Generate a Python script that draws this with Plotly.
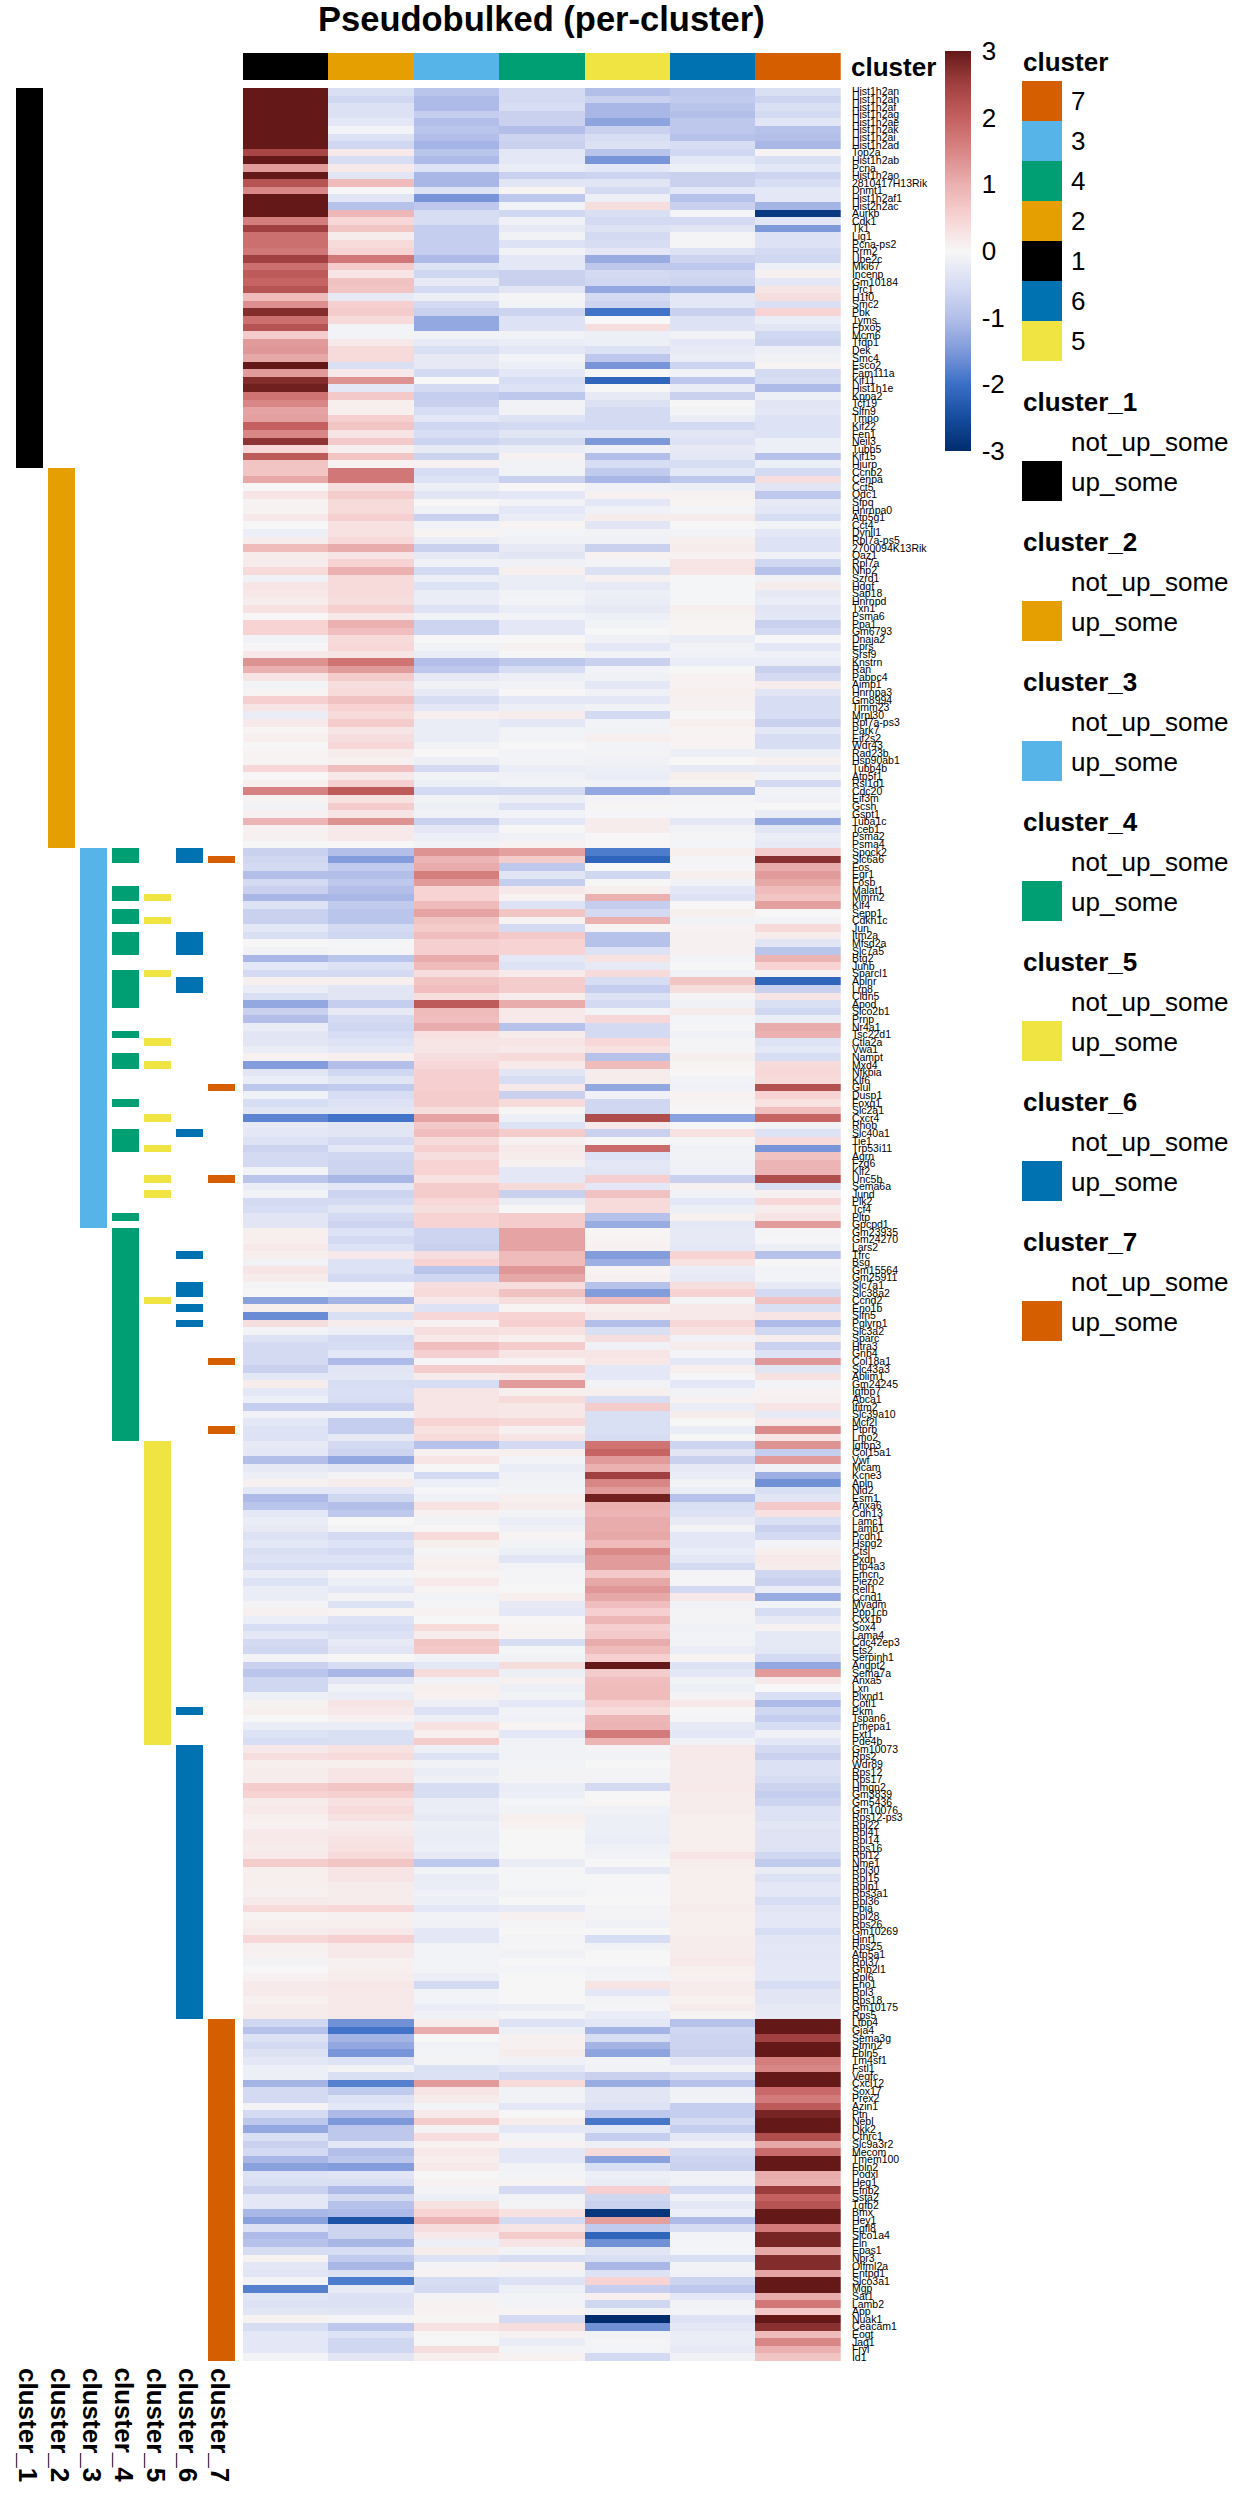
import plotly.graph_objects as go

W, H = 1248, 2496
clusters = ["1", "2", "3", "4", "5", "6", "7"]
cluster_colors = ["#000000", "#E69F00", "#56B4E9", "#009E73", "#F0E442", "#0072B2", "#D55E00"]
legend_order = ["7", "3", "4", "2", "1", "6", "5"]
colorbar_ticks = [-3, -2, -1, 0, 1, 2, 3]

genes_1 = ["Hist1h2an","Hist1h2ah","Hist1h2af","Hist1h2ag","Hist1h2ae","Hist1h2ak","Hist1h2ai","Hist1h2ad","Top2a","Hist1h2ab","Pcna","Hist1h2ao","2810417H13Rik","Dnmt1","Hist1h2af1","Hist2h2ac","Aurkb","Cdk1","Tk1","Lig1","Pcna-ps2","Rrm2","Ube2c","Mki67","Incenp","Gm10184","Prc1","H1f0","Smc2","Pbk","Tyms","Fbxo5","Mcm6","Tfdp1","Dek","Smc4","Esco2","Fam111a","Kif11","Hist1h1e","Kpna2","Tcf19","Slfn9","Tmpo","Kif22","Fen1","Neil3","Tubb5","Kif15","Hjurp"]
z_1 = [
[3,-.45,-.9,-.55,-1.0,-.85,-.45],[3,-.6,-1.05,-.55,-.7,-.8,-.65],[3,-.42,-1.05,-.5,-1.1,-.9,-.45],[3,-.42,-.75,-.7,-1.1,-1.0,-.55],[3,-.3,-1.0,-.7,-1.35,-.85,-.35],
[3,-.08,-.9,-1.0,-.7,-.85,-.95],[3,-.4,-1.0,-.65,-.5,-.95,-1.0],[3,-.6,-1.15,-.7,-.42,-.5,-1.1],[2.4,.2,-.9,-.3,-.9,-.6,.05],[3,-.5,-1.05,-.3,-1.55,-.3,-.45],
[1.25,.2,-.4,-.2,-.3,-.15,-.3],[3,-.35,-1.1,-.7,-.65,-.7,-.65],[2.2,.85,-1.1,-.35,-.35,-.7,-.5],[1.5,.02,-.4,.06,-.55,-.3,-.3],[3,-.35,-1.55,-.85,-.15,-.95,-.3],
[3,-.95,-.85,-.1,.35,-.7,-1.15],[3,.9,-.5,-.6,-.45,-.05,-2.8],[1.6,.45,-.5,-.12,-.55,-.55,-.35],[2.5,.7,-.75,-.25,-.4,-.35,-1.5],[1.8,.15,-.75,-.1,-.55,-.05,-.4],
[1.8,.4,-.75,-.4,-.5,-.05,-.4],[1.7,.5,-.75,-.1,-.3,-.4,-.55],[2.5,1.7,-1.05,-.3,-1.25,-.65,-.6],[1.8,.6,-.4,-.3,-.85,-.85,-.15],[2.1,.25,-.6,-.7,-.55,-.6,.1],
[1.95,.75,-.25,-.7,-.6,-.65,-.3],[2.2,.7,-.55,-.35,-1.3,-1.15,.25],[.85,-.25,-.15,-.05,-.55,-.3,.35],[1.4,.55,-.55,-.08,-.65,-.3,-.45],[2.75,.6,-.7,-.65,-1.95,-.7,.5],
[1.8,.4,-1.3,-.4,0,-.4,-.2],[2.2,-.08,-1.3,-.4,.35,-.4,-.35],[.6,-.08,-.1,-.1,-.15,-.1,-.6],[1.25,.2,-.25,-.2,-.15,-.3,-.65],[1.3,.4,-.45,-.3,-.42,-.25,-.15],
[1.1,.4,-.25,-.08,-.85,-.2,-.1],[3,-.45,-.25,-.15,-1.55,-.65,.05],[1.25,.2,-.55,-.3,-.02,-.1,-.55],[2.75,1.35,0,-.5,-2.15,-.85,-.5],[2.9,-.3,-.55,-.4,.02,-.2,-1.05],
[1.75,.65,-.75,-.85,-.25,-.7,-.15],[1.5,.12,-.7,-.1,-.42,-.02,-.35],[1.15,.12,-.5,-.1,-.55,-.08,-.3],[1.2,.55,-.3,-.4,-.55,-.2,-.4],[2.0,.7,-.6,-.55,-.55,-.55,-.4],
[1.5,.25,-.5,-.35,-.35,-.35,-.4],[2.65,.65,-.65,-.55,-1.5,-.4,-.15],[.45,.12,-.25,-.2,-.12,-.25,-.15],[2.1,.7,-.65,.1,-1.0,-.3,-.95],[.7,.08,.08,-.1,-.5,-.5,-.15],
]

genes_2 = ["Ccnb2","Cenpa","Cct5","Odc1","Sfpq","Hnrnpa0","Atp5g1","Cct4","Dynll1","Rpl7a-ps5","2700094K13Rik","Oaz1","Rpl7a","Nhp2","Szrd1","Hdgf","Sap18","Hnrnpd","Txn1","Psma6","Ppa1","Gm6793","Dnaja2","Eprs","Srsf9","Knstrn","Ran","Pabpc4","Aimp1","Hnrnpa3","Gm8994","Timm23","Mrpl30","Rpl7a-ps3","Park7","Eif2s2","Wdr43","Rad23b","Hsp90ab1","Tubb4b","Atp5f1","Rsl1d1","Cdc20","Eif3m","Gcsh","Gspt1","Tuba1c","Tceb1","Psma2","Psma4"]
z_2 = [
[.7,1.7,-.5,-.1,-.8,-.3,-.55],[1.1,1.7,-.4,-.7,-1.1,-.85,.35],[.02,.35,-.15,.03,-.12,-.15,-.35],[.25,.6,-.35,-.3,.1,.1,-.85],[.07,.4,.03,-.1,-.3,.05,-.25],
[.07,.4,-.12,-.3,-.12,-.08,-.3],[.2,.55,-.7,-.2,.15,.15,-.5],[.02,.3,-.1,.05,-.35,.02,-.08],[-.15,.3,.05,-.08,-.1,-.08,-.3],[.15,.42,-.2,-.12,-.12,.12,-.4],
[.85,1.05,-.7,-.25,-.7,.15,-.4],[.15,.25,-.25,-.35,.08,.08,-.12],[.15,.5,-.12,-.12,-.08,.25,-.6],[.4,1.0,-.55,.12,-.42,.25,-.95],[-.12,.4,-.15,-.2,.1,-.04,-.1],
[.25,.4,-.4,-.2,-.25,-.04,.15],[.22,.4,-.2,-.1,-.15,-.04,-.25],[.15,.35,-.2,-.08,-.2,-.04,-.2],[.3,.55,-.4,-.2,-.25,.12,-.35],[.03,.2,-.1,-.08,-.15,.07,-.3],
[.5,1.0,-.65,-.3,-.08,.05,-.7],[.5,.8,-.65,-.3,.02,.05,-.55],[-.1,.4,.02,-.02,-.12,-.2,.02],[.03,.45,-.1,.1,-.3,-.1,-.3],[.2,.25,-.2,.02,-.1,-.12,-.12],
[1.35,1.75,-1.0,-.85,-.7,-.2,-.2],[1.0,1.25,-.85,-.5,-.08,-.02,-.7],[.25,.6,-.25,-.15,-.12,.08,-.55],[-.08,.35,-.12,-.1,-.3,.08,.15],[.05,.4,-.25,.03,-.12,.12,-.35],
[.55,.75,-.5,-.3,-.3,.1,-.5],[.25,.5,-.3,-.15,-.1,.1,-.5],[-.2,.4,.12,.15,-.55,.02,-.5],[.2,.6,-.2,-.3,-.08,.12,-.7],[.05,.25,-.2,-.1,-.1,.06,-.3],
[.12,.35,-.2,-.08,.12,.08,-.5],[.02,.45,-.1,.01,-.08,.05,-.5],[.05,.15,.03,-.08,-.07,-.15,-.15],[.05,.1,-.15,-.08,-.12,.01,.1],[.45,.8,-.55,-.2,-.15,-.25,-.25],
[.03,.2,-.1,-.12,-.2,.12,-.1],[.12,.55,-.15,-.1,-.1,.05,-.55],[1.55,2.1,-.55,-.55,-1.3,-1.1,-.1],[.05,.3,-.1,-.15,-.05,-.05,-.12],[-.1,.6,-.15,-.4,.04,-.03,.02],
[.1,.25,-.12,-.08,-.03,-.03,-.2],[.95,1.35,-.7,-.3,.15,-.3,-1.3],[.1,.2,-.3,.02,.15,-.1,-.35],[.1,.2,-.15,-.12,.03,-.05,-.2],[.02,.03,-.1,.08,.03,-.06,-.25],
]

genes_3 = ["Spock2","Slc6a6","Fos","Egr1","Fosb","Malat1","Mmrn2","Klf4","Sepp1","Cdkn1c","Jun","Itm2a","Mfsd2a","Slc7a5","Btg2","Junb","Sparcl1","Aplnr","Lrp8","Cldn5","Apod","Slco2b1","Prnp","Nr4a1","Tsc22d1","Ctla2a","Vwa1","Nampt","Mxd4","Nfkbia","Klf6","Glul","Dusp1","Foxq1","Slc2a1","Cxcr4","Rhob","Slc40a1","Tie1","Trp53i11","Agrn","Fzd6","Klf2","Unc5b","Sema6a","Jund","Plk2","Tcf4","Pltp","Gpcpd1"]
z_3 = [
[-.7,-1,1.35,1.2,-1.85,.12,.6],[-.6,-1.45,.95,.6,-2.15,-.05,2.7],[-.55,-.8,1.05,-.85,0,-.03,1.05],[-1.0,-1.0,1.6,-.35,-.6,.12,1.25],[-.55,-.85,1.25,-.75,-.02,-.1,1.1],
[-.7,-1,.5,.2,.12,-.3,.85],[-1.1,-1.1,.5,.08,1.0,-.4,.7],[-.4,-.8,.85,-.4,-.75,.03,1.2],[-.7,-.9,1.15,.7,-.55,.12,.02],[-.7,-.9,.7,.05,1.0,-.1,-.08],
[-.3,-.55,.6,-.55,.05,.08,.4],[-.45,-.6,.8,.65,-.95,.1,.15],[.01,-.04,.55,.5,-.95,.1,-.35],[-.1,-.05,.55,.5,-.4,.1,-.9],[-1.1,-.9,1.05,-.3,.3,-.08,.95],
[-.3,-.4,.85,-.4,-.25,-.02,.5],[-.55,-.55,.35,.18,.4,-.12,.05],[.12,.12,.7,.6,-.5,.7,-2.15],[-.2,-.35,.8,.6,-.75,.35,-.7],[-.45,-.35,.35,.15,-.4,-.05,.25],
[-1.3,-.75,2.1,1.05,-.55,-.12,-.45],[-.7,-.25,.85,.2,-.08,.15,-.6],[-1.0,-.55,.8,.2,.45,-.08,-.2],[-.22,-.6,1.05,-.95,-.55,-.03,1.05],[-.35,-.5,.3,.15,-.55,-.12,1.0],
[-.35,-.4,.25,.25,.45,-.05,-.4],[-.2,-.3,.25,.2,.3,-.05,-.3],[.08,.12,.35,.4,-.95,.12,-.5],[-1.45,-1,.45,.2,.85,.05,.4],[-.35,-.6,.55,-.35,.15,.03,.45],
[-.2,-.35,.55,-.5,.15,-.1,.4],[-.85,-.8,.55,.2,-1.3,-.12,2.25],[-.12,-.5,.6,-.7,-.12,.08,.5],[-.5,-.4,.6,.4,-.6,.05,.3],[-.35,-.35,.35,.04,-.6,.03,.8],
[-1.75,-1.95,1.15,-.15,2.3,-1.4,1.95],[-.25,-.35,.65,-.4,.2,-.03,-.1],[-.3,-.35,.8,.6,-.7,.3,-.4],[-.4,-.55,.4,.1,.02,-.05,.4],[-.65,-.3,.55,.2,1.85,-.12,-1.55],
[-.55,-.6,.35,.15,-.4,-.1,.75],[-.55,-.65,.5,.1,-.3,-.12,.95],[-.08,-.65,.5,-.3,-.35,-.12,.95],[-.9,-1.1,.3,-.3,.55,-.7,2.3],[-.2,-.3,.6,.4,-.3,.1,-.45],
[-.1,-.65,.6,-.7,.75,-.1,.1],[-.55,-.55,.45,-.2,.4,-.3,.45],[-.5,-.35,.35,-.02,.4,-.15,.15],[-.35,-.55,.5,.6,-.95,.1,.25],[-.35,-.65,.5,.6,-1.25,-.3,1.25],
]

genes_4 = ["Gm23935","Gm24270","Lars2","Tfrc","Bsg","Gm15564","Gm25911","Slc7a1","Slc38a2","Ccnd2","Eno1b","Slfn5","Pglyrp1","Slc3a2","Sparc","Htra3","Gnb4","Col18a1","Slc43a3","Ablim1","Gm24245","Igfbp7","Abca1","Ifitm2","Slc39a10","Mcf2l","Ptprb","Lmo2"]
z_4 = [
[.12,-.4,-.65,1.15,.04,-.25,-.05],[.12,-.55,-.65,1.15,.05,-.25,-.03],[.2,-.4,-.7,1.15,.1,-.3,-.15],[.12,.2,.35,.85,-1.45,.5,-.95],[-.1,-.4,.5,.85,-1.2,.3,-.02],
[.25,-.4,-.9,1.3,.06,-.2,-.08],[.15,-.55,-.6,1.1,.1,-.25,-.08],[-.05,-.03,.35,.35,-.95,.35,-.25],[.02,-.1,.4,.75,-1.45,.5,-.55],[-1.4,-1.15,.2,.35,.8,-.05,.75],
[.12,.15,-.4,.05,.12,.2,-.45],[-1.65,-.45,.45,.5,.2,.2,.25],[.35,.15,.08,.55,-1.0,.45,-1.05],[-.08,-.15,.35,.3,-.45,.3,-.6],[-.4,-.55,.2,.12,.35,-.12,.15],
[-.55,-.5,.8,.6,-.12,.15,-.7],[-.55,-.3,.55,.25,.25,-.05,-.4],[-.55,-1.05,-.05,.08,.22,-.3,1.3],[-.7,-.35,.6,.6,-.3,.12,-.35],[-.3,-.3,.15,.22,-.3,-.03,.3],
[.15,-.5,-.5,1.25,-.1,-.3,-.08],[-.3,-.45,.25,.12,.12,-.1,.08],[-.15,-.5,.25,.4,-.5,.1,.1],[-.75,-.75,.25,.22,.6,-.2,.25],[-.12,-.1,.25,.22,-.45,.15,-.25],
[-.3,-.75,.5,.45,-.45,-.02,.2],[-.4,-.75,.3,.1,-.45,-.2,1.45],[-.4,-.25,.4,.25,-.5,-.02,.25],
]

genes_5 = ["Igfbp3","Col15a1","Vwf","Mcam","Kcne3","Apln","Nid2","Esm1","Anxa6","Cdh13","Lamc1","Lamb1","Pcdh1","Hspg2","Ctsl","Pxdn","Ptp4a3","Emcn","Piezo2","Rell1","Ccnd1","Myadm","Ppp1cb","Cxx1b","Sox4","Lama4","Cdc42ep3","Ets2","Serpinh1","Angpt2","Sema7a","Anxa5","Lxn","Plxnd1","Cotl1","Pkm","Tspan6","Pmepa1","Ext1","Pde4b"]
z_5 = [
[-.25,-.55,-.95,-.55,1.75,-.65,1.35],[-.3,-.65,.1,.12,1.95,-.35,-.75],[-1.0,-1.3,.25,-.08,1.25,-.7,1.25],[-.25,-.35,.02,-.2,1.0,-.25,-.12],[-.15,-.07,-.55,-.12,2.5,-.2,-1.2],
[.1,.15,-.15,-.1,1.5,-.08,-1.6],[-.3,-.3,-.03,-.08,1.25,-.2,-.45],[-1.05,-.6,-.12,.12,2.9,-.95,-.35],[-.9,-1.0,.3,.15,1.0,-.45,.65],[-.3,-.85,.1,-.08,.95,-.4,.3],
[-.2,.01,-.1,-.2,1.05,-.25,-.45],[-.25,-.07,.03,-.12,1.05,-.07,-.7],[-.4,-.55,.4,.05,1.1,-.3,-.55],[-.3,-.4,.12,-.08,.85,-.3,-.08],[-.45,-.55,-.05,-.15,1.45,-.2,.12],
[-.4,-.4,.1,-.35,1.25,-.3,.2],[-.5,-.5,.12,-.08,1.25,-.55,.15],[-.2,-.05,.05,-.05,.65,-.05,-.6],[-.4,-.15,.2,-.03,1.1,-.05,-.7],[-.2,-.3,.06,.02,1.3,-.55,-.2],
[-.2,-.07,-.1,.12,1.1,.2,-1.25],[-.07,-.4,-.05,-.25,.8,-.12,-.08],[.1,.05,.08,-.3,.55,-.07,-.5],[-.18,-.4,.02,.03,.9,-.07,-.25],[-.5,-.5,.4,.05,.55,-.12,.08],
[-.3,-.4,.15,.05,.65,-.08,-.28],[-.55,-.25,.7,-.5,1.05,-.1,-.28],[-.6,-.35,.65,-.04,.85,-.2,-.3],[-.07,.01,-.1,-.1,.55,.05,-.55],[-.7,-.5,-.3,.38,3,-.4,-1.3],
[-.9,-1.1,.4,-.15,.6,-.3,1.25],[-.6,-.35,-.1,.1,.8,-.1,.2],[-.6,-.1,.12,-.15,.85,-.15,0],[-.15,-.2,.1,-.1,.85,-.07,-.45],[.07,.25,-.15,-.3,.55,.2,-1.05],
[.12,.2,-.4,-.1,.4,.02,-.6],[.02,.1,-.15,-.12,.9,-.05,-.75],[-.2,-.2,.3,.05,.95,-.25,-.5],[-.4,-.45,.12,-.3,1.65,-.3,-.12],[-.5,-.45,.6,-.1,.95,-.1,-.3],
]

genes_6 = ["Gm10073","Rps2","Wdr89","Rps12","Rps17","Hmgn2","Gm3839","Gm5436","Gm10076","Rps12-ps3","Rpl22","Rpl41","Rpl14","Rps16","Rpl12","Nme1","Rpl30","Rpl15","Rplp1","Rps3a1","Rpl36","Ppia","Rpl28","Rps26","Gm10269","Hint1","Rps25","Atp5a1","Rpl37","Gnb2l1","Rpl6","Eno1","Rpl3","Rps18","Gm10175","Rps5"]
z_6 = [
[.2,.3,-.15,-.1,-.07,.2,-.55],[.35,.4,-.4,-.1,-.1,.2,-.7],[.12,.12,-.1,-.08,.01,.18,-.42],[.15,.25,-.2,-.07,-.07,.18,-.42],[.15,.25,-.12,-.07,-.07,.18,-.5],
[.6,.7,-.5,-.2,-.55,.2,-.65],[.5,.55,-.5,-.15,.01,.15,-.75],[.15,.3,-.2,-.06,.04,.15,-.65],[.2,.4,-.2,-.1,-.12,.15,-.4],[.12,.3,-.25,.12,-.15,.12,-.42],
[.08,.15,-.15,.08,-.15,.12,-.32],[.2,.2,-.2,.02,-.15,.12,-.38],[.2,.28,-.2,.02,-.2,.12,-.38],[.15,.3,-.15,.01,-.12,.12,-.38],[.2,.4,-.25,.01,-.1,.25,-.6],
[.6,.7,-.85,-.2,.01,.15,-.8],[.12,.25,-.08,-.03,-.25,.12,-.22],[.12,.25,-.2,-.04,-.03,.12,-.42],[.12,.15,-.2,-.04,-.03,.12,-.3],[.1,.15,-.12,-.1,-.03,.12,-.3],
[.18,.15,-.15,.02,-.02,.12,-.5],[.4,.45,-.3,-.25,-.07,.15,-.35],[.05,.1,-.1,.1,-.07,.12,-.3],[.12,.12,-.12,-.05,-.12,.12,-.3],[.15,.2,-.3,.02,.01,.12,-.5],
[.45,.55,-.3,-.07,-.5,.15,-.35],[.1,.2,-.1,-.05,-.1,.15,-.3],[.1,.2,-.08,-.1,.01,.15,-.32],[-.07,.1,-.08,.02,.01,.2,-.3],[.03,.12,-.08,-.06,-.1,.13,-.3],
[.08,.15,-.18,.02,-.08,.1,-.3],[.18,.22,-.55,.02,.25,.15,-.5],[.18,.2,-.08,.02,-.3,.15,-.35],[.1,.2,-.08,.02,-.07,.1,-.35],[.15,.2,-.2,-.18,-.05,.15,-.25],[.15,.2,-.12,-.06,-.2,.05,-.25],
]

genes_7 = ["Ltbp4","Gja4","Sema3g","Stmn2","Fbln5","Tm4sf1","Fstl1","Vegfc","Cxcl12","Sox17","Prex2","Azin1","Ptn","Nebl","Dkk2","Cthrc1","Slc9a3r2","Mecom","Tmem100","Fbln2","Podxl","Heg1","Efnb2","Ssta2","Tgfb2","Bmx","Hey1","Egfl8","Slco1a4","Eln","Epas1","Npr3","Olfml2a","Entpd1","Slco3a1","Mgp","Sat1","Lamb2","App","Nuak1","Ceacam1","Eogt","Jag1","Fryl","Id1"]
z_7 = [
[-.6,-1.6,.15,-.4,-.3,-.95,3],[-.95,-1.95,1.05,-.15,-1.15,-.6,3],[-.42,-1.15,.02,.1,-.5,-.65,2.5],[-.55,-1.3,-.12,.1,-1.15,-.65,3],[-.42,-1.55,-.08,.15,-1.35,-.7,3],
[-.3,-.4,-.07,-.12,-.08,-.3,1.6],[-.15,-.07,-.42,-.3,-.1,-.1,1.5],[-.15,-.45,-.42,-.55,-.7,-.55,3],[-1.15,-1.8,1.25,.4,-1.25,-.95,3],[-.55,-.8,.25,-.1,-.35,-.12,1.9],
[-.55,-.4,.15,-.1,-.35,-.1,1.65],[-.07,-.3,-.08,-.3,-.4,-.75,2.1],[-.55,-1.05,.2,.02,-.85,-.75,2.85],[-.85,-1.5,.6,.15,-1.9,-.55,3],[-1.3,-.85,-.07,-.3,-.3,-.75,3],
[-.45,-.85,.35,-.08,-.75,-.3,2.3],[-.7,-.3,.08,.08,-.15,-.12,1.1],[-.55,-1,.2,-.3,.4,-.55,1.85],[-1.1,-.85,.12,-.3,-1.4,-.65,3],[-1.4,-1.45,.2,-.1,-.45,-.7,3],
[-.4,-.35,.02,-.08,-.15,-.12,1.05],[-.45,-.45,.08,.05,-.22,-.12,1.0],[-.7,-1.05,-.07,-.55,.55,-.55,2.55],[-.3,-.55,-.15,-.1,-.6,-.12,2.0],[-.3,-.95,.3,-.07,-.7,-.3,2.2],
[-1.1,-1.05,.5,.3,-2.85,-.15,3],[-1.4,-2.4,.95,-.55,1.2,-1.05,3],[-.42,-.65,.35,.25,-.8,-.5,1.65],[-1.05,-.65,.2,.6,-2.15,-.08,2.85],[-.95,-1.1,-.15,.25,-1.6,-.08,2.85],
[-.5,-.5,.15,-.1,-.35,-.06,1.1],[.07,-.8,-.4,-.5,-.45,-.45,2.75],[-.3,-1.1,-.07,.1,-1.1,-.1,2.75],[-.35,-.4,.07,-.1,-.4,-.12,1.15],[-.1,-1.85,-.5,-.4,.5,-.65,3],
[-1.8,-.25,-.55,-.15,-.75,-.85,3],[-.35,-.42,-.07,-.08,.12,-.3,1.05],[-.4,-.42,.07,-.08,-.6,-.1,1.7],[-.35,-.35,.08,.06,-.1,-.08,.65],[.07,-.05,.04,-.55,-3,-.4,3],
[-.5,-.85,.3,.35,-1.6,-.3,2.7],[-.3,-.4,.04,.1,-.1,-.2,.85],[-.3,-.6,.02,-.2,-.05,-.2,1.5],[-.3,-.6,.35,-.08,-.08,-.25,1.0],[-.08,-.35,.12,.08,-.55,-.12,.7],
]

# genes called up in another cluster as well as their own
also_up_4 = ["Spock2","Slc6a6","Malat1","Mmrn2","Sepp1","Cdkn1c","Itm2a","Mfsd2a","Slc7a5","Sparcl1","Aplnr","Lrp8","Cldn5","Apod","Tsc22d1","Nampt","Mxd4","Foxq1","Slc40a1","Tie1","Trp53i11","Pltp"]
also_up_5 = ["Mmrn2","Cdkn1c","Sparcl1","Ctla2a","Mxd4","Cxcr4","Trp53i11","Unc5b","Jund","Ccnd2"]
also_up_6 = ["Spock2","Slc6a6","Itm2a","Mfsd2a","Slc7a5","Aplnr","Lrp8","Slc40a1","Tfrc","Slc7a1","Slc38a2","Eno1b","Pglyrp1","Pkm"]
also_up_7 = ["Slc6a6","Glul","Unc5b","Col18a1","Ptprb"]

genes_by_cluster = [genes_1, genes_2, genes_3, genes_4, genes_5, genes_6, genes_7]
genes = sum(genes_by_cluster, [])
z = z_1 + z_2 + z_3 + z_4 + z_5 + z_6 + z_7
assert len(genes) == len(z) == 299 and all(len(r) == 7 for r in z)
rows = list(range(len(genes)))
extras = [[], [], [], also_up_4, also_up_5, also_up_6, also_up_7]

colorscale_stops = [(-3,"#002c6e"),(-2.5,"#164c9e"),(-2,"#3a6fc6"),(-1.5,"#7e99da"),(-1,"#b3bfe9"),(-.5,"#d7ddf3"),(0,"#f7f7f7"),
                    (.5,"#f7d3d3"),(1,"#ebb0b0"),(1.5,"#d98686"),(2,"#c46060"),(2.5,"#a14040"),(3,"#651818")]
colorscale = [[(v + 3) / 6, c] for v, c in colorscale_stops]

# layout in pixels
def px(x): return x / W
def py(y): return 1 - y / H
HM_L, HM_R, HM_T, HM_B = 242.9, 840.8, 88, 2361
SIDE_X0, SIDE_STEP, SIDE_W = 16, 32, 27

fig = go.Figure()
fig.add_trace(go.Heatmap(z=z, x=clusters, y=rows, zmin=-3, zmax=3, colorscale=colorscale, xaxis="x", yaxis="y", hoverinfo="skip",
    colorbar=dict(x=px(945), xanchor="left", xpad=0, y=py(51), yanchor="top", ypad=0, thicknessmode="pixels", thickness=26,
                  lenmode="pixels", len=400, tickvals=colorbar_ticks, ticktext=[str(t) for t in colorbar_ticks],
                  tickfont=dict(size=26, family="Liberation Sans", color="black"), outlinewidth=0, ticks="outside", ticklen=6,
                  tickcolor="rgba(0,0,0,0)", tickwidth=0)))

# column annotation along the top
top_scale = []
for i, c in enumerate(cluster_colors):
    top_scale += [[i / 7, c], [(i + 1) / 7, c]]
fig.add_trace(go.Heatmap(z=[list(range(7))], x=clusters, y=[0], zmin=-.5, zmax=6.5, colorscale=top_scale, showscale=False,
                         xaxis="x", yaxis="y2", hoverinfo="skip"))

layout = dict(
    width=W, height=H, margin=dict(l=0, r=0, t=0, b=0, autoexpand=False), paper_bgcolor="white", plot_bgcolor="white", showlegend=False,
    xaxis=dict(domain=[px(HM_L), px(HM_R)], anchor="y", showticklabels=False, ticks="", showgrid=False, zeroline=False, showline=False),
    yaxis=dict(domain=[py(HM_B), py(HM_T)], anchor="x", side="right", range=[len(genes) - .5, -.5], tickmode="array", tickvals=rows, ticktext=genes,
               tickfont=dict(size=10.5, family="Liberation Sans", color="black"), ticks="outside", ticklen=8, tickcolor="rgba(0,0,0,0)", tickwidth=0,
               showgrid=False, zeroline=False, showline=False),
    yaxis2=dict(domain=[py(80), py(53)], anchor="x", showticklabels=False, ticks="", showgrid=False, zeroline=False, showline=False),
)

# row annotation columns
for k in range(7):
    own = set(genes_by_cluster[k]) | set(extras[k])
    col = [[1 if g in own else None] for g in genes]
    ax = f"x{k + 3}"
    fig.add_trace(go.Heatmap(z=col, x=[f"cluster_{k + 1}"], y=rows, zmin=0, zmax=1, showscale=False, hoverinfo="skip",
                             colorscale=[[0, cluster_colors[k]], [1, cluster_colors[k]]], xaxis=ax, yaxis="y"))
    x0 = SIDE_X0 + SIDE_STEP * k
    layout[f"xaxis{k + 3}"] = dict(domain=[px(x0), px(x0 + SIDE_W)], anchor="y", showticklabels=False, ticks="", showgrid=False, zeroline=False, showline=False)

ann = []
shapes = []
def text(x, y, s, bold=False, size=26, xanchor="left", yanchor="middle", angle=0):
    ann.append(dict(x=px(x), y=py(y), xref="paper", yref="paper", text=f"<b>{s}</b>" if bold else s, showarrow=False, xanchor=xanchor, yanchor=yanchor,
                    textangle=angle, font=dict(size=size, family="Liberation Sans", color="black"), borderpad=0, align="left"))
def swatch(x, y, color):
    shapes.append(dict(type="rect", xref="paper", yref="paper", x0=px(x), x1=px(x + 40), y0=py(y + 40), y1=py(y), fillcolor=color, line=dict(width=0)))

text(541, 19, "Pseudobulked (per-cluster)", bold=True, size=34.5, xanchor="center")
text(850, 67, "cluster", bold=True)

for k in range(7):
    text(SIDE_X0 + SIDE_STEP * k + SIDE_W / 2 - 1.5, 2367, f"cluster_{k + 1}", bold=True, xanchor="center", yanchor="top", angle=90)

text(1022, 62, "cluster", bold=True)
for i, lab in enumerate(legend_order):
    swatch(1022, 81 + 40 * i, cluster_colors[clusters.index(lab)])
    text(1070, 101 + 40 * i, lab)
for k in range(7):
    y0 = 140 * k
    text(1022, 402 + y0, f"cluster_{k + 1}", bold=True)
    text(1070, 442 + y0, "not_up_some")
    swatch(1022, 461 + y0, cluster_colors[k])
    text(1070, 482 + y0, "up_some")

layout["annotations"] = ann
layout["shapes"] = shapes
fig.update_layout(**layout)
fig.write_html("out.html", config=dict(displayModeBar=False), post_script="document.body.style.margin='0';")
